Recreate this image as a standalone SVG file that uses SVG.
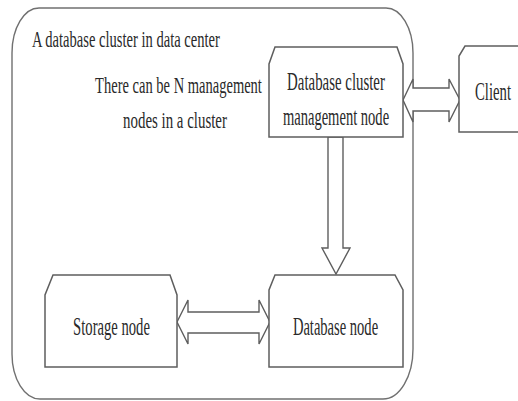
<svg xmlns="http://www.w3.org/2000/svg" width="518" height="401" viewBox="0 0 518 401">
<style>
.box{fill:#fff;stroke:#5e5e5e;stroke-width:1.5}
.frame{fill:none;stroke:#707070;stroke-width:1.4}
.arr{fill:#fff;stroke:#5e5e5e;stroke-width:1.4;stroke-linejoin:miter}
text{font-family:"Liberation Serif","Times New Roman",serif;fill:#2a2a2a}
.m{text-anchor:middle}
</style>
<rect x="0" y="0" width="518" height="401" fill="#fff"/>
<g id="cluster">
<path class="frame" d="M39,8 H386 A27 45 0 0 1 413 53 V349 A30 50 0 0 1 383 399 H40 A28 45 0 0 1 12 354 V53 A27 45 0 0 1 39 8 Z"/>
<text transform="translate(32,47) scale(0.6,1)" font-size="23" textLength="313" lengthAdjust="spacingAndGlyphs">A database cluster in data center</text>
<text class="m" transform="translate(178.5,93) scale(0.6,1)" font-size="24" textLength="278" lengthAdjust="spacingAndGlyphs">There can be N management</text>
<text class="m" transform="translate(175,128) scale(0.6,1)" font-size="24" textLength="173" lengthAdjust="spacingAndGlyphs">nodes in a cluster</text>
</g>
<g id="connectors">
<polygon class="arr" points="403,100 413,79 413,88 449,88 449,79 460,100 449,122 449,111 413,111 413,122"/>
<polygon class="arr" points="177,322 188,300 188,312 259,312 259,300 270,322 259,344 259,333 188,333 188,344"/>
<polygon class="arr" points="328,137 343,137 343,248 350,248 336,274 322,248 328,248"/>
</g>
<g id="mgmt">
<path class="box" d="M275,47 H397 L403,64 V137 H269 V64 Z"/>
<text class="m" transform="translate(336,90) scale(0.6,1)" font-size="25" textLength="163" lengthAdjust="spacingAndGlyphs">Database cluster</text>
<text class="m" transform="translate(336,125) scale(0.6,1)" font-size="25" textLength="177" lengthAdjust="spacingAndGlyphs">management node</text>
</g>
<g id="client">
<path class="box" d="M465,46 H530 V132 H459 V56 Z"/>
<text class="m" transform="translate(493,100) scale(0.6,1)" font-size="25" textLength="60" lengthAdjust="spacingAndGlyphs">Client</text>
</g>
<g id="storage">
<path class="box" d="M53,275 H170 L177,295 V367 H45 V295 Z"/>
<text class="m" transform="translate(111.5,335) scale(0.6,1)" font-size="26" textLength="128" lengthAdjust="spacingAndGlyphs">Storage node</text>
</g>
<g id="database">
<path class="box" d="M275,275 H395 L403,290 V367 H269 V290 Z"/>
<text class="m" transform="translate(335.5,335) scale(0.6,1)" font-size="26" textLength="142" lengthAdjust="spacingAndGlyphs">Database node</text>
</g>
</svg>
